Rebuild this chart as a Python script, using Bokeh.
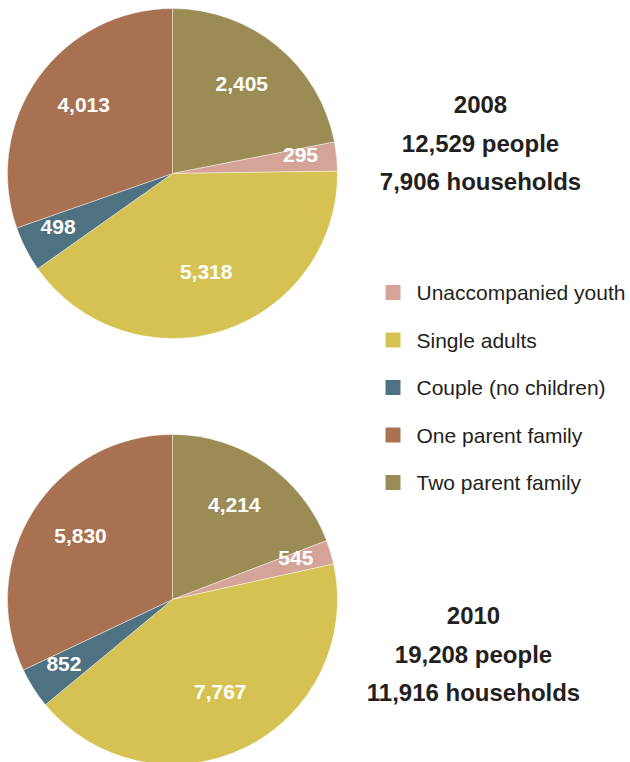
import math
from bokeh.plotting import figure
from bokeh.models import Range1d, ColumnDataSource
from bokeh.embed import file_html
from bokeh.resources import INLINE
from bokeh.core.properties import value

# ---- data ----
categories = ["Two parent family", "Unaccompanied youth", "Single adults",
              "Couple (no children)", "One parent family"]
colors = ["#9b8c55", "#d4a498", "#d6c252", "#4e7282", "#a87252"]
people_2008 = [2405, 295, 5318, 498, 4013]
people_2010 = [4214, 545, 7767, 852, 5830]
legend_order = ["Unaccompanied youth", "Single adults", "Couple (no children)",
                "One parent family", "Two parent family"]
title_2008 = ["2008", "12,529 people", "7,906 households"]
title_2010 = ["2010", "19,208 people", "11,916 households"]

W, H = 630, 762
FONT = "Liberation Sans"
TXT = "#231f20"

p = figure(width=W, height=H, x_range=Range1d(0, W), y_range=Range1d(0, H),
           output_backend="svg", toolbar_location=None, min_border=0)
p.axis.visible = False
p.grid.visible = False
p.outline_line_color = None
p.background_fill_color = "white"


def Y(y):
    return H - y


def pie(cx, cy, r, shape_vals, label_vals):
    # In the reference the wedge geometry of each pie follows shape_vals
    total = float(sum(shape_vals))
    starts, ends, lx, ly, txt = [], [], [], [], []
    cum = 0.0
    for v, lv in zip(shape_vals, label_vals):
        a0 = math.pi / 2 - 2 * math.pi * cum / total
        cum += v
        a1 = math.pi / 2 - 2 * math.pi * cum / total
        starts.append(a0)
        ends.append(a1)
        mid = (a0 + a1) / 2
        frac = 0.78 if v / total < 0.06 else 0.66
        lx.append(cx + r * frac * math.cos(mid))
        ly.append(Y(cy) + r * frac * math.sin(mid) + 5)
        txt.append(f"{lv:,}")
    src = ColumnDataSource(dict(s=starts, e=ends, c=colors))
    p.wedge(x=cx, y=Y(cy), radius=r, start_angle="s", end_angle="e",
            direction="clock", fill_color="c", line_color="white",
            line_width=0.6, line_alpha=0.7, source=src)
    p.text(x=lx, y=ly, text=txt, text_color="white", text_font=value(FONT),
           text_font_style="bold", text_font_size="21px", text_align="center",
           text_baseline="middle")


pie(172, 173, 165, people_2010, people_2008)
pie(172, 599, 165, people_2008, people_2010)


def title(cx, cy0, lines):
    p.text(x=[cx] * len(lines), y=[Y(cy0 + 38.5 * i) for i in range(len(lines))],
           text=lines, text_color=TXT, text_font=value(FONT),
           text_font_style="bold", text_font_size="24px", text_align="center",
           text_baseline="middle")


title(480, 104, title_2008)
title(473, 615, title_2010)

# legend
lx0, ly0, dy = 392.5, 292, 47.5
leg_colors = [colors[categories.index(c)] for c in legend_order]
ys = [Y(ly0 + dy * i) for i in range(len(legend_order))]
p.rect(x=[lx0] * len(ys), y=ys, width=15, height=15, fill_color=leg_colors,
       line_color=None)
p.text(x=[416] * len(ys), y=ys, text=legend_order, text_color=TXT,
       text_font=value(FONT), text_font_size="21px", text_align="left",
       text_baseline="middle")

open("out.html", "w").write(file_html(p, INLINE))
